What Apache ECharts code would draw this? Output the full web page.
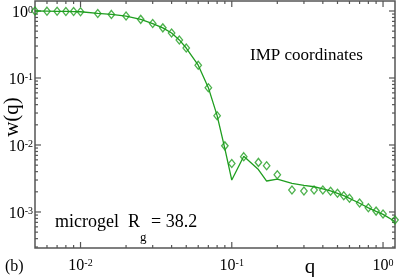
<!DOCTYPE html>
<html>
<head>
<meta charset="utf-8">
<script src="https://cdn.jsdelivr.net/npm/echarts@6/dist/echarts.min.js"></script>
<style>
html,body{margin:0;padding:0;background:#fff;}
#c{width:399px;height:277px;}
</style>
</head>
<body>
<div id="c"></div>
<script>
// ---- data ----
const qMarkers = [0.005,0.006,0.007,0.008,0.009,0.010,0.013,0.016,0.020,0.025,0.030,0.035,0.040,0.045,0.050,0.060,0.070,0.080,0.090,0.100,0.120,0.150,0.170,0.200,0.250,0.300,0.350,0.400,0.450,0.500,0.550,0.600,0.700,0.800,0.900,1.000,1.200];
const wMarkers = [1.0,0.995,0.99,0.985,0.98,0.975,0.92,0.89,0.84,0.75,0.65,0.56,0.47,0.37,0.28,0.155,0.0717,0.0274,0.0097,0.0053,0.0067,0.0055,0.0049,0.0036,0.00213,0.00206,0.00213,0.00213,0.00204,0.0019,0.00175,0.0016,0.00136,0.00116,0.00103,0.00093,0.00076];

const qLine = [0.005,0.006,0.007,0.008,0.009,0.010,0.013,0.016,0.020,0.025,0.030,0.035,0.040,0.045,0.050,0.060,0.070,0.080,0.090,0.100,0.120,0.150,0.170,0.200,0.250,0.300,0.350,0.400,0.450,0.500,0.550,0.600,0.700,0.800,0.900,1.000,1.200];
const wLine = [1.0,0.995,0.99,0.985,0.98,0.975,0.92,0.89,0.84,0.75,0.65,0.56,0.47,0.37,0.28,0.155,0.0717,0.0274,0.0088,0.0030,0.0068,0.0043,0.0029,0.0031,0.00268,0.0025,0.00238,0.00222,0.00206,0.0019,0.00175,0.0016,0.00135,0.00115,0.00102,0.00092,0.00072];

const xMin = 0.005, xMax = 1.2;
const yMin = 2.9e-4, yMax = 1.41;
const xDecades = [-3, -2, -1, 0];
const yDecades = [-4, -3, -2, -1, 0];
const minorSteps = [2,3,4,5,6,7,8,9];

const green = '#1f9e1f';
const frame = '#555';
const serif = 'Liberation Serif';

// tick lists (axis structure)
const tickData = [];
xDecades.forEach(function(e){
  const base = Math.pow(10, e);
  if (base >= xMin && base <= xMax) tickData.push([base, 0.01, 0, 1]);
  minorSteps.forEach(function(k){
    const v = k * base;
    if (v > xMin * 1.0001 && v < xMax * 0.9999) tickData.push([v, 0.01, 0, 0]);
  });
});
yDecades.forEach(function(e){
  const base = Math.pow(10, e);
  if (base >= yMin && base <= yMax) tickData.push([0.01, base, 1, 1]);
  minorSteps.forEach(function(k){
    const v = k * base;
    if (v > yMin * 1.0001 && v < yMax * 0.9999) tickData.push([0.01, v, 1, 0]);
  });
});

function powLabel(v){
  const e = Math.round(Math.log10(v));
  if (Math.abs(v - Math.pow(10, e)) / v > 1e-6) return '';
  return '{b|10}{s|' + e + '}';
}
const richLab = {
  b: {fontFamily: serif, fontSize: 16, color: '#000', lineHeight: 16},
  s: {fontFamily: serif, fontSize: 10, color: '#000', verticalAlign: 'top', lineHeight: 16}
};

const chart = echarts.init(document.getElementById('c'), null, {renderer: 'canvas'});
chart.setOption({
  animation: false,
  grid: {left: 35, right: 4, top: 1, bottom: 29, show: true, borderColor: frame, borderWidth: 1.5, backgroundColor: 'transparent'},
  xAxis: {
    type: 'log', logBase: 10, min: xMin, max: xMax,
    axisLine: {show: false}, axisTick: {show: false}, splitLine: {show: false},
    axisLabel: {formatter: powLabel, rich: richLab, margin: 10, showMinLabel: true, showMaxLabel: true, hideOverlap: false}
  },
  yAxis: {
    type: 'log', logBase: 10, min: yMin, max: yMax,
    axisLine: {show: false}, axisTick: {show: false}, splitLine: {show: false},
    axisLabel: {formatter: powLabel, rich: richLab, margin: 2, padding: [4,0,0,0], hideOverlap: false}
  },
  series: [
    {
      type: 'custom', silent: true, clip: false, z: 1,
      encode: {x: 0, y: 1},
      data: tickData,
      renderItem: function(params, api){
        const cs = params.coordSys;
        const kind = api.value(2), major = api.value(3);
        const len = major ? 6 : 3;
        const st = {stroke: frame, lineWidth: 1.2};
        if (kind === 0) {
          const x = api.coord([api.value(0), api.value(1)])[0];
          const b = cs.y + cs.height, t = cs.y;
          return {type: 'group', children: [
            {type: 'line', shape: {x1: x, y1: b, x2: x, y2: b - len}, style: st},
            {type: 'line', shape: {x1: x, y1: t, x2: x, y2: t + len}, style: st}
          ]};
        } else {
          const y = api.coord([api.value(0), api.value(1)])[1];
          const l = cs.x, r = cs.x + cs.width;
          return {type: 'group', children: [
            {type: 'line', shape: {x1: l, y1: y, x2: l + len, y2: y}, style: st},
            {type: 'line', shape: {x1: r, y1: y, x2: r - len, y2: y}, style: st}
          ]};
        }
      }
    },
    {
      name: 'line', type: 'line', z: 3,
      data: qLine.map(function(q, i){ return [q, wLine[i]]; }),
      showSymbol: false, symbol: 'none',
      lineStyle: {color: green, width: 1.3}
    },
    {
      name: 'markers', type: 'scatter', z: 4,
      data: qMarkers.map(function(q, i){ return [q, wMarkers[i]]; }),
      symbol: 'diamond', symbolSize: [6.5, 8],
      itemStyle: {color: 'transparent', borderColor: green, borderWidth: 1.3}
    }
  ],
  graphic: [
    {type: 'text', left: 250, top: 47, style: {text: 'IMP coordinates', fontFamily: serif, fontSize: 17, fill: '#000'}},
    {type: 'text', left: 55, top: 213, style: {
      text: '{n|microgel  R}{s|g}{n| = 38.2}', fontFamily: serif, fill: '#000',
      rich: {
        n: {fontFamily: serif, fontSize: 18, lineHeight: 18, verticalAlign: 'top', fill: '#000'},
        s: {fontFamily: serif, fontSize: 13, lineHeight: 31, verticalAlign: 'bottom', fill: '#000'}
      }
    }},
    {type: 'text', left: 5, top: 259, style: {text: '(b)', fontFamily: serif, fontSize: 16, fill: '#000'}},
    {type: 'text', x: 310, y: 267, style: {text: 'q', fontFamily: serif, fontSize: 21, fill: '#000', align: 'center', verticalAlign: 'middle'}},
    {type: 'text', x: 12, y: 117, rotation: Math.PI / 2, style: {text: 'w(q)', fontFamily: serif, fontSize: 21, fill: '#000', align: 'center', verticalAlign: 'middle'}}
  ]
});
</script>
</body>
</html>
